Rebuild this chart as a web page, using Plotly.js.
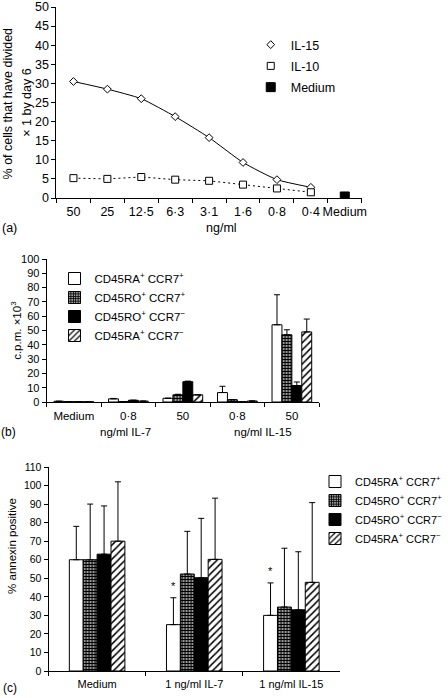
<!DOCTYPE html>
<html><head><meta charset="utf-8">
<script src="https://cdn.plot.ly/plotly-3.0.1.min.js"></script>
<style>html,body{margin:0;padding:0;background:#fff}#chart{width:448px;height:698px}</style>
</head><body><div id="chart"></div>
<script>
// ---------- DATA ----------
// Panel (a)
const aCategories = ['50', '25', '12·5', '6·3', '3·1', '1·6', '0·8', '0·4', 'Medium'];
const aIL15 = [30.5, 28.5, 26.0, 21.3, 15.8, 9.3, 4.8, 2.8, null];
const aIL10 = [5.2, 5.0, 5.5, 4.8, 4.5, 3.5, 2.5, 1.5, null];
const aMedium = [null, null, null, null, null, null, null, null, 0.4];

// Panel (b)
const bTickLabels = ['Medium', '0·8', '50', '0·8', '50'];
const bGroups = ['', 'IL-7', 'IL-7', 'IL-15', 'IL-15'];
const bRApCCR7p = [0.5, 2.2, 2.6, 6.6, 54];
const bROpCCR7p = [0.2, 0.3, 5.0, 1.6, 47];
const bROpCCR7n = [0.2, 1.2, 14.2, 0.2, 11.5];
const bRApCCR7n = [0.2, 0.6, 5.0, 0.7, 49];
const bRApCCR7pErr = [0, 0.3, 0, 4.4, 21];
const bROpCCR7pErr = [0, 0, 0.4, 0, 3.5];
const bROpCCR7nErr = [0, 0, 0.4, 0, 2.5];
const bRApCCR7nErr = [0, 0, 0, 0, 9];

// Panel (c)
const cCategories = ['Medium', '1 ng/ml IL-7', '1 ng/ml IL-15'];
const cRApCCR7p = [60, 25, 30];
const cROpCCR7p = [60, 52.3, 34.5];
const cROpCCR7n = [63, 50.3, 33];
const cRApCCR7n = [70, 60.2, 47.8];
const cRApCCR7pErr = [18, 14.5, 17.5];
const cROpCCR7pErr = [30, 23, 31.7];
const cROpCCR7nErr = [26, 32, 31.3];
const cRApCCR7nErr = [32, 33, 43];
const cSignificance = ['', '*', '*'];

const seriesNames = [
  'CD45RA<sup>+</sup> CCR7<sup>+</sup>',
  'CD45RO<sup>+</sup> CCR7<sup>+</sup>',
  'CD45RO<sup>+</sup> CCR7<sup>\u2212</sup>',
  'CD45RA<sup>+</sup> CCR7<sup>\u2212</sup>'
];

// ---------- STYLE ----------
const FONT = 'Liberation Sans, Arial, Helvetica, sans-serif';
const W = 448, H = 698;
const px = x => x / W;
const py = y => 1 - y / H;

const fills = [
  {color: 'white', pattern: null},
  {color: 'white', pattern: {shape: '+', fgcolor: 'black', bgcolor: 'white', size: 3, solidity: 0.72, fillmode: 'replace'}},
  {color: 'black', pattern: null},
  {color: 'white', pattern: {shape: '/', fgcolor: 'black', bgcolor: 'white', size: 5, solidity: 0.3, fillmode: 'replace'}}
];

// unique keys for repeated tick labels in panel (b)
const bKeys = bTickLabels.map((l, i) => (bGroups[i] ? bGroups[i] + ' ' : '') + l);

const bBarW = 0.182, cBarW = 0.143;
const cCatPx = (343 - 49) / 3;

function barTraces(keys, series, errs, xa, ya, barW, legendName, grp) {
  return series.map((vals, k) => {
    const marker = {color: fills[k].color, line: {color: 'black', width: 1}};
    if (fills[k].pattern) marker.pattern = fills[k].pattern;
    return {
      type: 'bar', x: keys, y: vals, name: seriesNames[k],
      xaxis: xa, yaxis: ya, legend: legendName, legendgroup: grp + k,
      width: barW, offset: (k - 2) * barW, marker: marker,
      error_y: {type: 'data', symmetric: false, array: errs[k], arrayminus: errs[k].map(() => 0),
        color: 'black', thickness: 1, width: 3}
    };
  });
}

const traces = [
  {type: 'scatter', mode: 'lines', x: aCategories, y: aIL15, xaxis: 'x', yaxis: 'y', showlegend: false,
    line: {color: 'black', width: 1, shape: 'spline', smoothing: 0.5}, hoverinfo: 'skip'},
  {type: 'scatter', mode: 'lines', x: aCategories, y: aIL10, xaxis: 'x', yaxis: 'y', showlegend: false,
    line: {color: 'black', width: 1, dash: '2px,3px'}, hoverinfo: 'skip'},
  {type: 'scatter', mode: 'markers', x: aCategories, y: aIL15, name: 'IL-15', xaxis: 'x', yaxis: 'y', legend: 'legend', legendgroup: 'a0',
    marker: {symbol: 'diamond', size: 6, color: 'white', line: {color: 'black', width: 1}}},
  {type: 'scatter', mode: 'markers', x: aCategories, y: aIL10, name: 'IL-10', xaxis: 'x', yaxis: 'y', legend: 'legend', legendgroup: 'a1',
    marker: {symbol: 'square', size: 7, color: 'white', line: {color: 'black', width: 1}}},
  {type: 'scatter', mode: 'markers', x: aCategories, y: aMedium, name: 'Medium', xaxis: 'x', yaxis: 'y', legend: 'legend', legendgroup: 'a2',
    marker: {symbol: 'square', size: 9, color: 'black', line: {color: 'black', width: 1}}}
].concat(
  barTraces(bKeys, [bRApCCR7p, bROpCCR7p, bROpCCR7n, bRApCCR7n],
    [bRApCCR7pErr, bROpCCR7pErr, bROpCCR7nErr, bRApCCR7nErr], 'x2', 'y2', bBarW, 'legend2', 'b'),
  barTraces(cCategories, [cRApCCR7p, cROpCCR7p, cROpCCR7n, cRApCCR7n],
    [cRApCCR7pErr, cROpCCR7pErr, cROpCCR7nErr, cRApCCR7nErr], 'x3', 'y3', cBarW, 'legend3', 'c')
);

const axBase = {showgrid: false, zeroline: false, showline: true, linecolor: 'black', linewidth: 1,
  ticks: 'outside', ticklen: 4, tickwidth: 1, tickcolor: 'black', fixedrange: true, tickangle: 0};

function ax(extra, size) {
  return Object.assign({}, axBase, extra, {tickfont: {family: FONT, color: 'black', size: size}});
}

function txt(text, x, y, size, angle) {
  return {text: text, xref: 'paper', yref: 'paper', x: px(x), y: py(y), xanchor: 'center', yanchor: 'middle',
    textangle: angle || 0, showarrow: false, font: {family: FONT, size: size, color: 'black'}};
}

const annotations = [
  // panel a
  txt('% of cells that have divided', 8.5, 103, 12.5, -90),
  txt('× 1 by day 6', 27, 103, 12.5, -90),
  txt('ng/ml', 223, 228, 12.5),
  txt('(a)', 10, 228, 12.5),
  // panel b
  txt('c.p.m. ×10<sup>3</sup>', 16, 330, 11.5, -90),
  txt('ng/ml IL-7', 127, 432, 11.5),
  txt('ng/ml IL-15', 265, 432, 11.5),
  txt('(b)', 9, 432, 12),
  // panel c
  txt('% annexin positive', 12, 546, 11.5, -90),
  txt('(c)', 10, 688, 12)
];

cSignificance.forEach((s, i) => {
  if (!s) return;
  annotations.push({text: s, xref: 'x3', yref: 'y3', x: cCategories[i], y: cRApCCR7p[i] + cRApCCR7pErr[i],
    xshift: (-2 * cBarW + cBarW / 2) * cCatPx, yshift: 4, xanchor: 'center', yanchor: 'bottom', showarrow: false,
    font: {family: FONT, size: 11, color: 'black'}});
});

const legBase = {bgcolor: 'rgba(0,0,0,0)', borderwidth: 0, xanchor: 'left', yanchor: 'top', traceorder: 'grouped'};

const layout = {
  width: W, height: H, margin: {l: 0, r: 0, t: 0, b: 0},
  paper_bgcolor: 'white', plot_bgcolor: 'rgba(0,0,0,0)',
  font: {family: FONT, color: 'black'},
  showlegend: true, barmode: 'overlay',
  xaxis: ax({domain: [px(57), px(365)], anchor: 'y', type: 'category', range: [-0.5, 8.5],
    tickson: 'boundaries', ticklabelstandoff: 2}, 12.5),
  yaxis: ax({domain: [py(198), py(7)], anchor: 'x', range: [0, 50], dtick: 5}, 12.5),
  xaxis2: ax({domain: [px(47), px(322)], anchor: 'y2', type: 'category', range: [-0.5, 4.5],
    tickson: 'boundaries', tickmode: 'array', tickvals: bKeys, ticktext: bTickLabels, ticklabelstandoff: 3}, 11.5),
  yaxis2: ax({domain: [py(402), py(259)], anchor: 'x2', range: [0, 100], dtick: 10}, 11),
  xaxis3: ax({domain: [px(49), px(343)], anchor: 'y3', type: 'category', range: [-0.5, 2.5],
    tickson: 'boundaries', ticklabelstandoff: 3}, 11),
  yaxis3: ax({domain: [py(671), py(467)], anchor: 'x3', range: [0, 110], dtick: 10}, 10.5),
  legend: Object.assign({}, legBase, {x: px(253), y: py(30), font: {family: FONT, size: 12.5, color: 'black'}, tracegroupgap: 2}),
  legend2: Object.assign({}, legBase, {x: px(55), y: py(264), font: {family: FONT, size: 11.5, color: 'black'}, tracegroupgap: 0}),
  legend3: Object.assign({}, legBase, {x: px(318), y: py(467), font: {family: FONT, size: 11, color: 'black'}, tracegroupgap: 0}),
  annotations: annotations
};

Plotly.newPlot('chart', traces, layout, {displayModeBar: false, staticPlot: true});
</script></body></html>
